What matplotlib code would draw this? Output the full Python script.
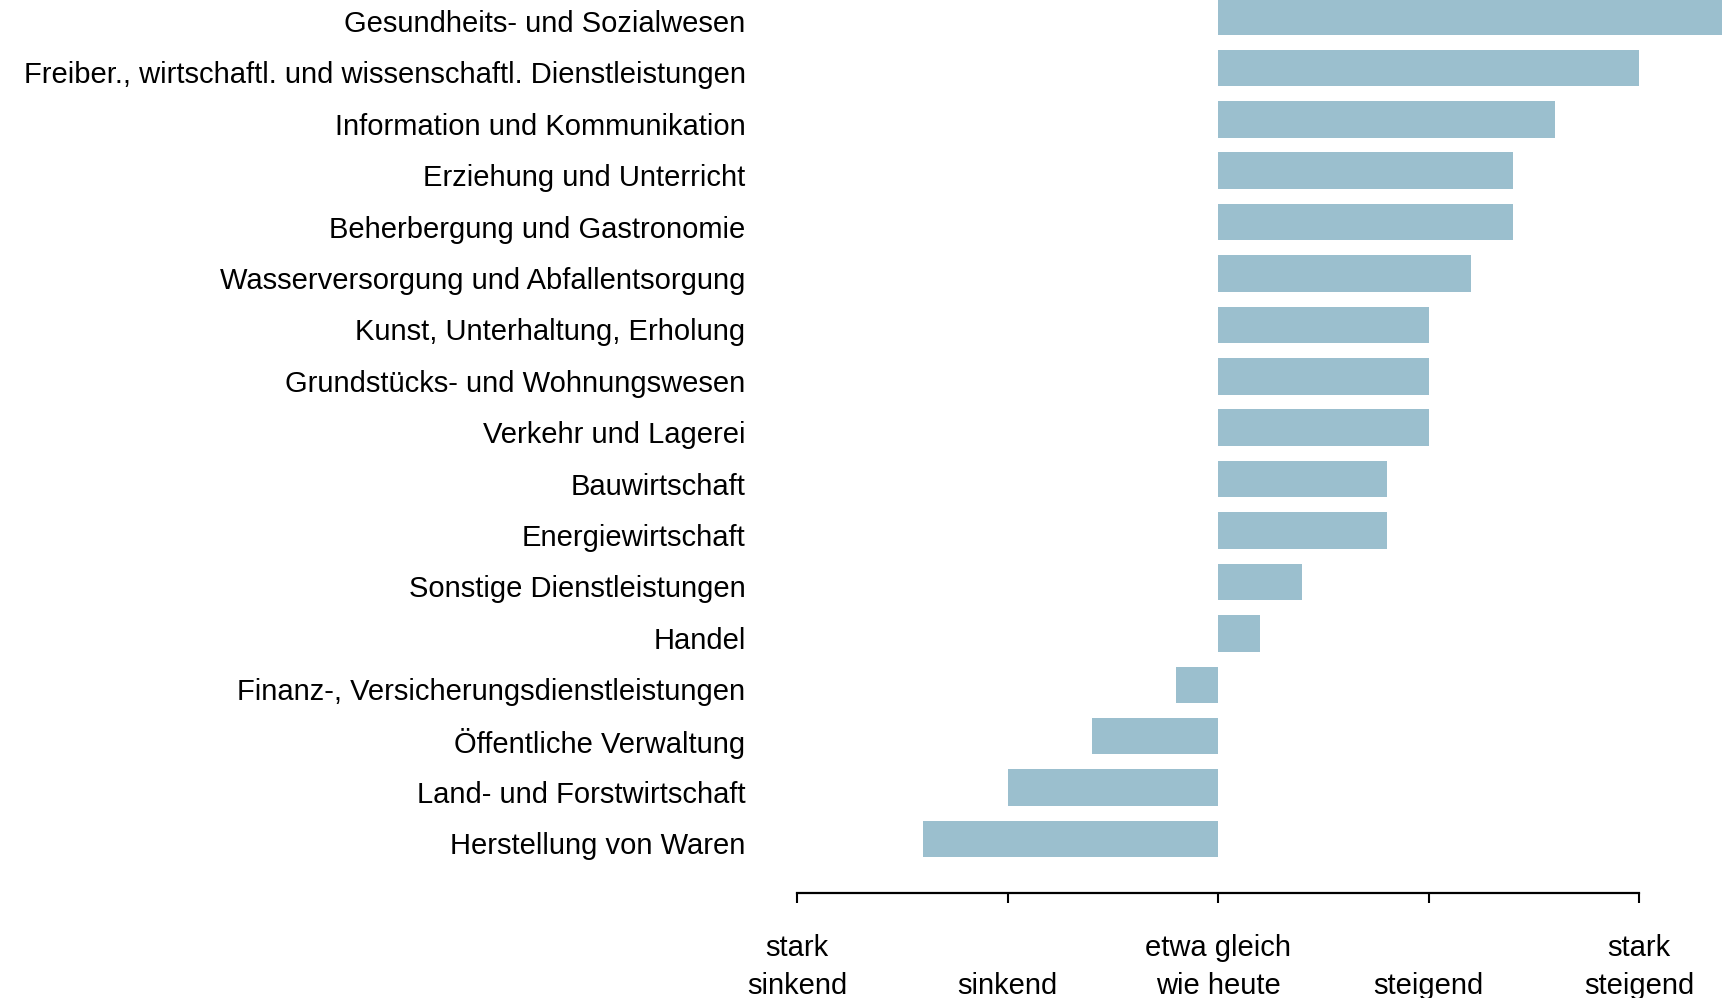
import matplotlib
matplotlib.use("Agg")
import matplotlib.pyplot as plt
from matplotlib.transforms import ScaledTranslation

categories = [
    "Herstellung von Waren",
    "Land- und Forstwirtschaft",
    "Öffentliche Verwaltung",
    "Finanz-, Versicherungsdienstleistungen",
    "Handel",
    "Sonstige Dienstleistungen",
    "Energiewirtschaft",
    "Bauwirtschaft",
    "Verkehr und Lagerei",
    "Grundstücks- und Wohnungswesen",
    "Kunst, Unterhaltung, Erholung",
    "Wasserversorgung und Abfallentsorgung",
    "Beherbergung und Gastronomie",
    "Erziehung und Unterricht",
    "Information und Kommunikation",
    "Freiber., wirtschaftl. und wissenschaftl. Dienstleistungen",
    "Gesundheits- und Sozialwesen",
]
values = [-1.4, -1.0, -0.6, -0.2, 0.2, 0.4, 0.8, 0.8, 1.0, 1.0, 1.0,
          1.2, 1.4, 1.4, 1.6, 2.0, 2.6]
tick_values = [-2, -1, 0, 1, 2]
tick_labels = ["stark\nsinkend", "sinkend", "etwa gleich\nwie heute",
               "steigend", "stark\nsteigend"]

plt.rcParams['font.family'] = ['Liberation Sans', 'DejaVu Sans']

W, H = 1722, 998
fig = plt.figure(figsize=(W / 100, H / 100), dpi=100)
left_px, bottom_px = 797, 893
ax = fig.add_axes([left_px / W, 1 - bottom_px / H, 1 - left_px / W, bottom_px / H])

y = list(range(len(categories)))
ax.barh(y, values, height=0.71, color="#9BBFCE", left=0)

ax.set_xlim(-2, (W - 1217) / 211.0)
ax.set_ylim(-1.05, 16.32)

ax.set_yticks(y)
ax.set_yticklabels(categories, fontsize=21)
ax.tick_params(axis='y', length=0, pad=37)
off = ScaledTranslation(0, -3.2 / 72, fig.dpi_scale_trans)
for lab in ax.get_yticklabels():
    lab.set_transform(lab.get_transform() + off)

ax.set_xticks(tick_values)
ax.set_xticklabels(tick_labels, fontsize=21, va='bottom', linespacing=1.43)
ax.tick_params(axis='x', direction='out', length=7, width=1.5, pad=70, colors='black')

for s in ['top', 'right', 'left']:
    ax.spines[s].set_visible(False)
ax.spines['bottom'].set_linewidth(1.6)
ax.spines['bottom'].set_bounds(-2, 2)

fig.savefig("out.png", dpi=100)
